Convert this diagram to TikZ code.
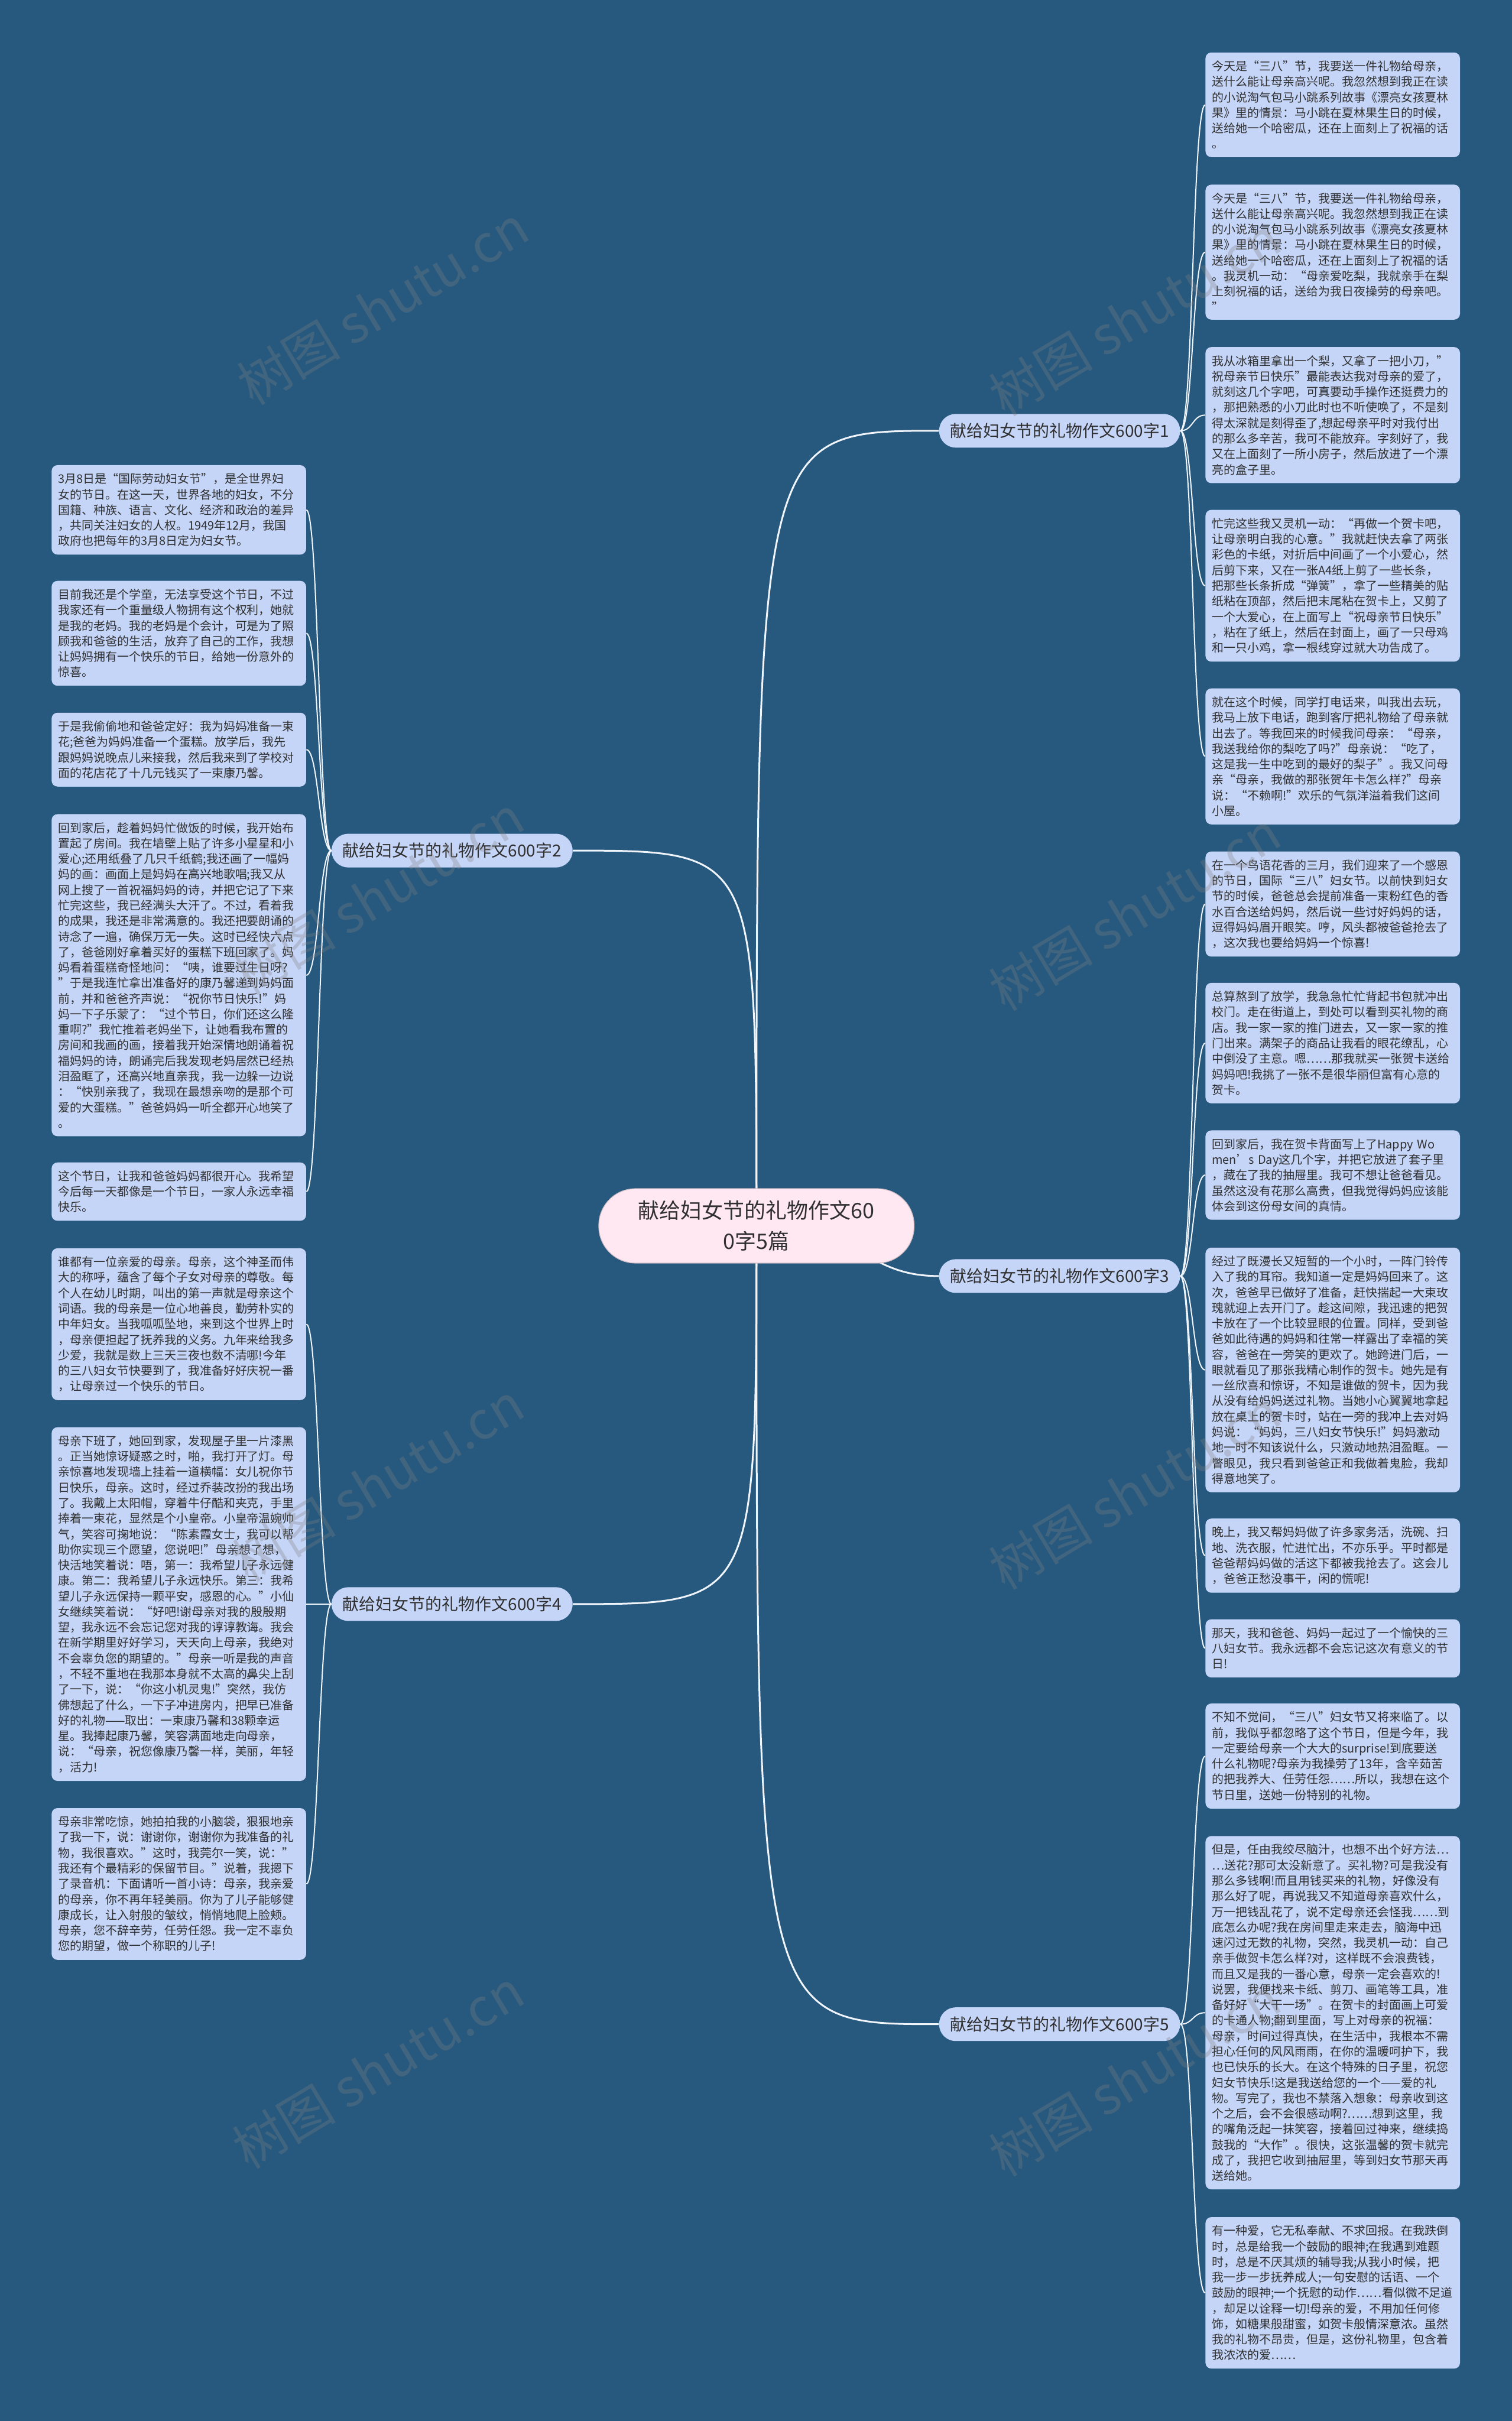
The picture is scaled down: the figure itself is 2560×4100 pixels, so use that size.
\documentclass[tikz,border=0pt]{standalone}
\usepackage{fontspec}
\setmainfont{Noto Sans CJK SC}
\usetikzlibrary{positioning,backgrounds}
\definecolor{mapBlue}{HTML}{27597F}
\definecolor{leafFill}{HTML}{C5D5F8}
\definecolor{rootPink}{HTML}{FFE8F2}
\definecolor{inkGray}{HTML}{303030}
\definecolor{linkWhite}{HTML}{F0F4FB}

\begin{document}
\begin{tikzpicture}[x=0.5pt,y=-0.5pt,
    leaf/.style={fill=leafFill,rounded corners=5pt,text width=204.5pt,inner xsep=5.5pt,inner ysep=6.9pt,align=left,text=inkGray,font=\fontsize{10}{13.15}\selectfont},
    topic/.style={fill=leafFill,rounded corners=14pt,minimum width=204pt,minimum height=28.5pt,inner sep=0pt,text=inkGray,font=\fontsize{14}{16}\selectfont},
    root/.style={fill=rootPink,draw=rootPink!80!black,line width=0.6pt,rounded corners=31pt,minimum width=267pt,minimum height=63pt,align=center,text=inkGray,font=\fontsize{18}{26}\selectfont},
    link/.style={draw=linkWhite,line width=1pt},
    wmark/.style={text=gray,opacity=0.3,rotate=31,font=\fontsize{44}{44}\selectfont}
  ]
  \useasboundingbox (0,0) rectangle (2560,4100);

  % centre and topics
  \node[root] (root) at (1281,2076) {献给妇女节的礼物作文60\\0字5篇};
  \node[topic,anchor=west] (t1) at (1590,729.5) {献给妇女节的礼物作文600字1};
  \node[topic,anchor=east] (t2) at (970,1440.5) {献给妇女节的礼物作文600字2};
  \node[topic,anchor=west] (t3) at (1590,2161) {献给妇女节的礼物作文600字3};
  \node[topic,anchor=east] (t4) at (970,2716.5) {献给妇女节的礼物作文600字4};
  \node[topic,anchor=west] (t5) at (1590,3428) {献给妇女节的礼物作文600字5};

  % topic 1
  \node[leaf,anchor=west] (r1) at (2041,177.5) {今天是“三八”节，我要送一件礼物给母亲，\\送什么能让母亲高兴呢。我忽然想到我正在读\\的小说淘气包马小跳系列故事《漂亮女孩夏林\\果》里的情景：马小跳在夏林果生日的时候，\\送给她一个哈密瓜，还在上面刻上了祝福的话\\。};
  \node[leaf,anchor=west] (r2) at (2041,427) {今天是“三八”节，我要送一件礼物给母亲，\\送什么能让母亲高兴呢。我忽然想到我正在读\\的小说淘气包马小跳系列故事《漂亮女孩夏林\\果》里的情景：马小跳在夏林果生日的时候，\\送给她一个哈密瓜，还在上面刻上了祝福的话\\。我灵机一动：“母亲爱吃梨，我就亲手在梨\\上刻祝福的话，送给为我日夜操劳的母亲吧。\\”};
  \node[leaf,anchor=west] (r3) at (2041,703) {我从冰箱里拿出一个梨，又拿了一把小刀，”\\祝母亲节日快乐”最能表达我对母亲的爱了，\\就刻这几个字吧，可真要动手操作还挺费力的\\，那把熟悉的小刀此时也不听使唤了，不是刻\\得太深就是刻得歪了,想起母亲平时对我付出\\的那么多辛苦，我可不能放弃。字刻好了，我\\又在上面刻了一所小房子，然后放进了一个漂\\亮的盒子里。};
  \node[leaf,anchor=west] (r4) at (2041,992) {忙完这些我又灵机一动：“再做一个贺卡吧，\\让母亲明白我的心意。”我就赶快去拿了两张\\彩色的卡纸，对折后中间画了一个小爱心，然\\后剪下来，又在一张A4纸上剪了一些长条，\\把那些长条折成“弹簧”，拿了一些精美的贴\\纸粘在顶部，然后把末尾粘在贺卡上，又剪了\\一个大爱心，在上面写上“祝母亲节日快乐”\\，粘在了纸上，然后在封面上，画了一只母鸡\\和一只小鸡，拿一根线穿过就大功告成了。};
  \node[leaf,anchor=west] (r5) at (2041,1281) {就在这个时候，同学打电话来，叫我出去玩，\\我马上放下电话，跑到客厅把礼物给了母亲就\\出去了。等我回来的时候我问母亲：“母亲，\\我送我给你的梨吃了吗?”母亲说：“吃了，\\这是我一生中吃到的最好的梨子”。我又问母\\亲“母亲，我做的那张贺年卡怎么样?”母亲\\说：“不赖啊!”欢乐的气氛洋溢着我们这间\\小屋。};

  % topic 3
  \node[leaf,anchor=west] (r6) at (2041,1531) {在一个鸟语花香的三月，我们迎来了一个感恩\\的节日，国际“三八”妇女节。以前快到妇女\\节的时候，爸爸总会提前准备一束粉红色的香\\水百合送给妈妈，然后说一些讨好妈妈的话，\\逗得妈妈眉开眼笑。哼，风头都被爸爸抢去了\\，这次我也要给妈妈一个惊喜!};
  \node[leaf,anchor=west] (r7) at (2041,1766.5) {总算熬到了放学，我急急忙忙背起书包就冲出\\校门。走在街道上，到处可以看到买礼物的商\\店。我一家一家的推门进去，又一家一家的推\\门出来。满架子的商品让我看的眼花缭乱，心\\中倒没了主意。嗯……那我就买一张贺卡送给\\妈妈吧!我挑了一张不是很华丽但富有心意的\\贺卡。};
  \node[leaf,anchor=west] (r8) at (2041,1990) {回到家后，我在贺卡背面写上了Happy Wo\\men’s Day这几个字，并把它放进了套子里\\，藏在了我的抽屉里。我可不想让爸爸看见。\\虽然这没有花那么高贵，但我觉得妈妈应该能\\体会到这份母女间的真情。};
  \node[leaf,anchor=west] (r9) at (2041,2320) {经过了既漫长又短暂的一个小时，一阵门铃传\\入了我的耳帘。我知道一定是妈妈回来了。这\\次，爸爸早已做好了准备，赶快揣起一大束玫\\瑰就迎上去开门了。趁这间隙，我迅速的把贺\\卡放在了一个比较显眼的位置。同样，受到爸\\爸如此待遇的妈妈和往常一样露出了幸福的笑\\容，爸爸在一旁笑的更欢了。她跨进门后，一\\眼就看见了那张我精心制作的贺卡。她先是有\\一丝欣喜和惊讶，不知是谁做的贺卡，因为我\\从没有给妈妈送过礼物。当她小心翼翼地拿起\\放在桌上的贺卡时，站在一旁的我冲上去对妈\\妈说：“妈妈，三八妇女节快乐!”妈妈激动\\地一时不知该说什么，只激动地热泪盈眶。一\\瞥眼见，我只看到爸爸正和我做着鬼脸，我却\\得意地笑了。};
  \node[leaf,anchor=west] (r10) at (2041,2634.5) {晚上，我又帮妈妈做了许多家务活，洗碗、扫\\地、洗衣服，忙进忙出，不亦乐乎。平时都是\\爸爸帮妈妈做的活这下都被我抢去了。这会儿\\，爸爸正愁没事干，闲的慌呢!};
  \node[leaf,anchor=west] (r11) at (2041,2791.5) {那天，我和爸爸、妈妈一起过了一个愉快的三\\八妇女节。我永远都不会忘记这次有意义的节\\日!};

  % topic 5
  \node[leaf,anchor=west] (r12) at (2041,2974) {不知不觉间，“三八”妇女节又将来临了。以\\前，我似乎都忽略了这个节日，但是今年，我\\一定要给母亲一个大大的surprise!到底要送\\什么礼物呢?母亲为我操劳了13年，含辛茹苦\\的把我养大、任劳任怨……所以，我想在这个\\节日里，送她一份特别的礼物。};
  \node[leaf,anchor=west] (r13) at (2041,3408.5) {但是，任由我绞尽脑汁，也想不出个好方法…\\…送花?那可太没新意了。买礼物?可是我没有\\那么多钱啊!而且用钱买来的礼物，好像没有\\那么好了呢，再说我又不知道母亲喜欢什么，\\万一把钱乱花了，说不定母亲还会怪我……到\\底怎么办呢?我在房间里走来走去，脑海中迅\\速闪过无数的礼物，突然，我灵机一动：自己\\亲手做贺卡怎么样?对，这样既不会浪费钱，\\而且又是我的一番心意，母亲一定会喜欢的!\\说罢，我便找来卡纸、剪刀、画笔等工具，准\\备好好“大干一场”。在贺卡的封面画上可爱\\的卡通人物;翻到里面，写上对母亲的祝福：\\母亲，时间过得真快，在生活中，我根本不需\\担心任何的风风雨雨，在你的温暖呵护下，我\\也已快乐的长大。在这个特殊的日子里，祝您\\妇女节快乐!这是我送给您的一个——爱的礼\\物。写完了，我也不禁落入想象：母亲收到这\\个之后，会不会很感动啊?……想到这里，我\\的嘴角泛起一抹笑容，接着回过神来，继续捣\\鼓我的“大作”。很快，这张温馨的贺卡就完\\成了，我把它收到抽屉里，等到妇女节那天再\\送给她。};
  \node[leaf,anchor=west] (r14) at (2041,3883) {有一种爱，它无私奉献、不求回报。在我跌倒\\时，总是给我一个鼓励的眼神;在我遇到难题\\时，总是不厌其烦的辅导我;从我小时候，把\\我一步一步抚养成人;一句安慰的话语、一个\\鼓励的眼神;一个抚慰的动作……看似微不足道\\，却足以诠释一切!母亲的爱，不用加任何修\\饰，如糖果般甜蜜，如贺卡般情深意浓。虽然\\我的礼物不昂贵，但是，这份礼物里，包含着\\我浓浓的爱……};

  % topic 2
  \node[leaf,anchor=west] (l1) at (87,863.5) {3月8日是“国际劳动妇女节”，是全世界妇\\女的节日。在这一天，世界各地的妇女，不分\\国籍、种族、语言、文化、经济和政治的差异\\，共同关注妇女的人权。1949年12月，我国\\政府也把每年的3月8日定为妇女节。};
  \node[leaf,anchor=west] (l2) at (87,1072.5) {目前我还是个学童，无法享受这个节日，不过\\我家还有一个重量级人物拥有这个权利，她就\\是我的老妈。我的老妈是个会计，可是为了照\\顾我和爸爸的生活，放弃了自己的工作，我想\\让妈妈拥有一个快乐的节日，给她一份意外的\\惊喜。};
  \node[leaf,anchor=west] (l3) at (87,1269.5) {于是我偷偷地和爸爸定好：我为妈妈准备一束\\花;爸爸为妈妈准备一个蛋糕。放学后，我先\\跟妈妈说晚点儿来接我，然后我来到了学校对\\面的花店花了十几元钱买了一束康乃馨。};
  \node[leaf,anchor=west] (l4) at (87,1651.5) {回到家后，趁着妈妈忙做饭的时候，我开始布\\置起了房间。我在墙壁上贴了许多小星星和小\\爱心;还用纸叠了几只千纸鹤;我还画了一幅妈\\妈的画：画面上是妈妈在高兴地歌唱;我又从\\网上搜了一首祝福妈妈的诗，并把它记了下来\\忙完这些，我已经满头大汗了。不过，看着我\\的成果，我还是非常满意的。我还把要朗诵的\\诗念了一遍，确保万无一失。这时已经快六点\\了，爸爸刚好拿着买好的蛋糕下班回家了。妈\\妈看着蛋糕奇怪地问：“咦，谁要过生日呀?\\”于是我连忙拿出准备好的康乃馨递到妈妈面\\前，并和爸爸齐声说：“祝你节日快乐!”妈\\妈一下子乐蒙了：“过个节日，你们还这么隆\\重啊?”我忙推着老妈坐下，让她看我布置的\\房间和我画的画，接着我开始深情地朗诵着祝\\福妈妈的诗，朗诵完后我发现老妈居然已经热\\泪盈眶了，还高兴地直亲我，我一边躲一边说\\：“快别亲我了，我现在最想亲吻的是那个可\\爱的大蛋糕。”爸爸妈妈一听全都开心地笑了\\。};
  \node[leaf,anchor=west] (l5) at (87,2018) {这个节日，让我和爸爸妈妈都很开心。我希望\\今后每一天都像是一个节日，一家人永远幸福\\快乐。};

  % topic 4
  \node[leaf,anchor=west] (l6) at (87,2242.5) {谁都有一位亲爱的母亲。母亲，这个神圣而伟\\大的称呼，蕴含了每个子女对母亲的尊敬。每\\个人在幼儿时期，叫出的第一声就是母亲这个\\词语。我的母亲是一位心地善良，勤劳朴实的\\中年妇女。当我呱呱坠地，来到这个世界上时\\，母亲便担起了抚养我的义务。九年来给我多\\少爱，我就是数上三天三夜也数不清哪!今年\\的三八妇女节快要到了，我准备好好庆祝一番\\，让母亲过一个快乐的节日。};
  \node[leaf,anchor=west] (l7) at (87,2716.5) {母亲下班了，她回到家，发现屋子里一片漆黑\\。正当她惊讶疑惑之时，啪，我打开了灯。母\\亲惊喜地发现墙上挂着一道横幅：女儿祝你节\\日快乐，母亲。这时，经过乔装改扮的我出场\\了。我戴上太阳帽，穿着牛仔酷和夹克，手里\\捧着一束花，显然是个小皇帝。小皇帝温婉帅\\气，笑容可掬地说：“陈素霞女士，我可以帮\\助你实现三个愿望，您说吧!”母亲想了想，\\快活地笑着说：唔，第一：我希望儿子永远健\\康。第二：我希望儿子永远快乐。第三：我希\\望儿子永远保持一颗平安，感恩的心。”小仙\\女继续笑着说：“好吧!谢母亲对我的殷殷期\\望，我永远不会忘记您对我的谆谆教诲。我会\\在新学期里好好学习，天天向上母亲，我绝对\\不会辜负您的期望的。”母亲一听是我的声音\\，不轻不重地在我那本身就不太高的鼻尖上刮\\了一下，说：“你这小机灵鬼!”突然，我仿\\佛想起了什么，一下子冲进房内，把早已准备\\好的礼物——取出：一束康乃馨和38颗幸运\\星。我捧起康乃馨，笑容满面地走向母亲，\\说：“母亲，祝您像康乃馨一样，美丽，年轻\\，活力!};
  \node[leaf,anchor=west] (l8) at (87,3190.5) {母亲非常吃惊，她拍拍我的小脑袋，狠狠地亲\\了我一下，说：谢谢你，谢谢你为我准备的礼\\物，我很喜欢。”这时，我莞尔一笑，说：”\\我还有个最精彩的保留节目。”说着，我摁下\\了录音机：下面请听一首小诗：母亲，我亲爱\\的母亲，你不再年轻美丽。你为了儿子能够健\\康成长，让入射般的皱纹，悄悄地爬上脸颊。\\母亲，您不辞辛劳，任劳任怨。我一定不辜负\\您的期望，做一个称职的儿子!};

  % watermarks
  \foreach \wx/\wy in {648/517,1922/536,640/1516,1922/1543,640/2510,1922/2523,640/3504,1922/3517}
    \node[wmark] at (\wx,\wy) {树图 shutu.cn};

  % connectors behind the boxes
  \begin{pgfonlayer}{background}
    \fill[mapBlue] (0,0) rectangle (2560,4100);
    \foreach \t in {t1,t2,t4,t5}
      \draw[link,line width=1.5pt] (root.center) .. controls (root.center |- \t.west) and (root.center |- \t.west) .. (\t);
    \draw[link,line width=1.5pt] (root.center) .. controls (1460,2076) and (1460,2161) .. (t3.west);
    \foreach \i in {1,...,5}
      \draw[link] (t1.east) .. controls +(22,0) and +(-22,0) .. (r\i.west);
    \foreach \i in {6,...,11}
      \draw[link] (t3.east) .. controls +(22,0) and +(-22,0) .. (r\i.west);
    \foreach \i in {12,13,14}
      \draw[link] (t5.east) .. controls +(22,0) and +(-22,0) .. (r\i.west);
    \foreach \i in {1,...,5}
      \draw[link] (t2.west) .. controls +(-21,0) and +(21,0) .. (l\i.east);
    \foreach \i in {6,7,8}
      \draw[link] (t4.west) .. controls +(-21,0) and +(21,0) .. (l\i.east);
  \end{pgfonlayer}
\end{tikzpicture}
\end{document}
